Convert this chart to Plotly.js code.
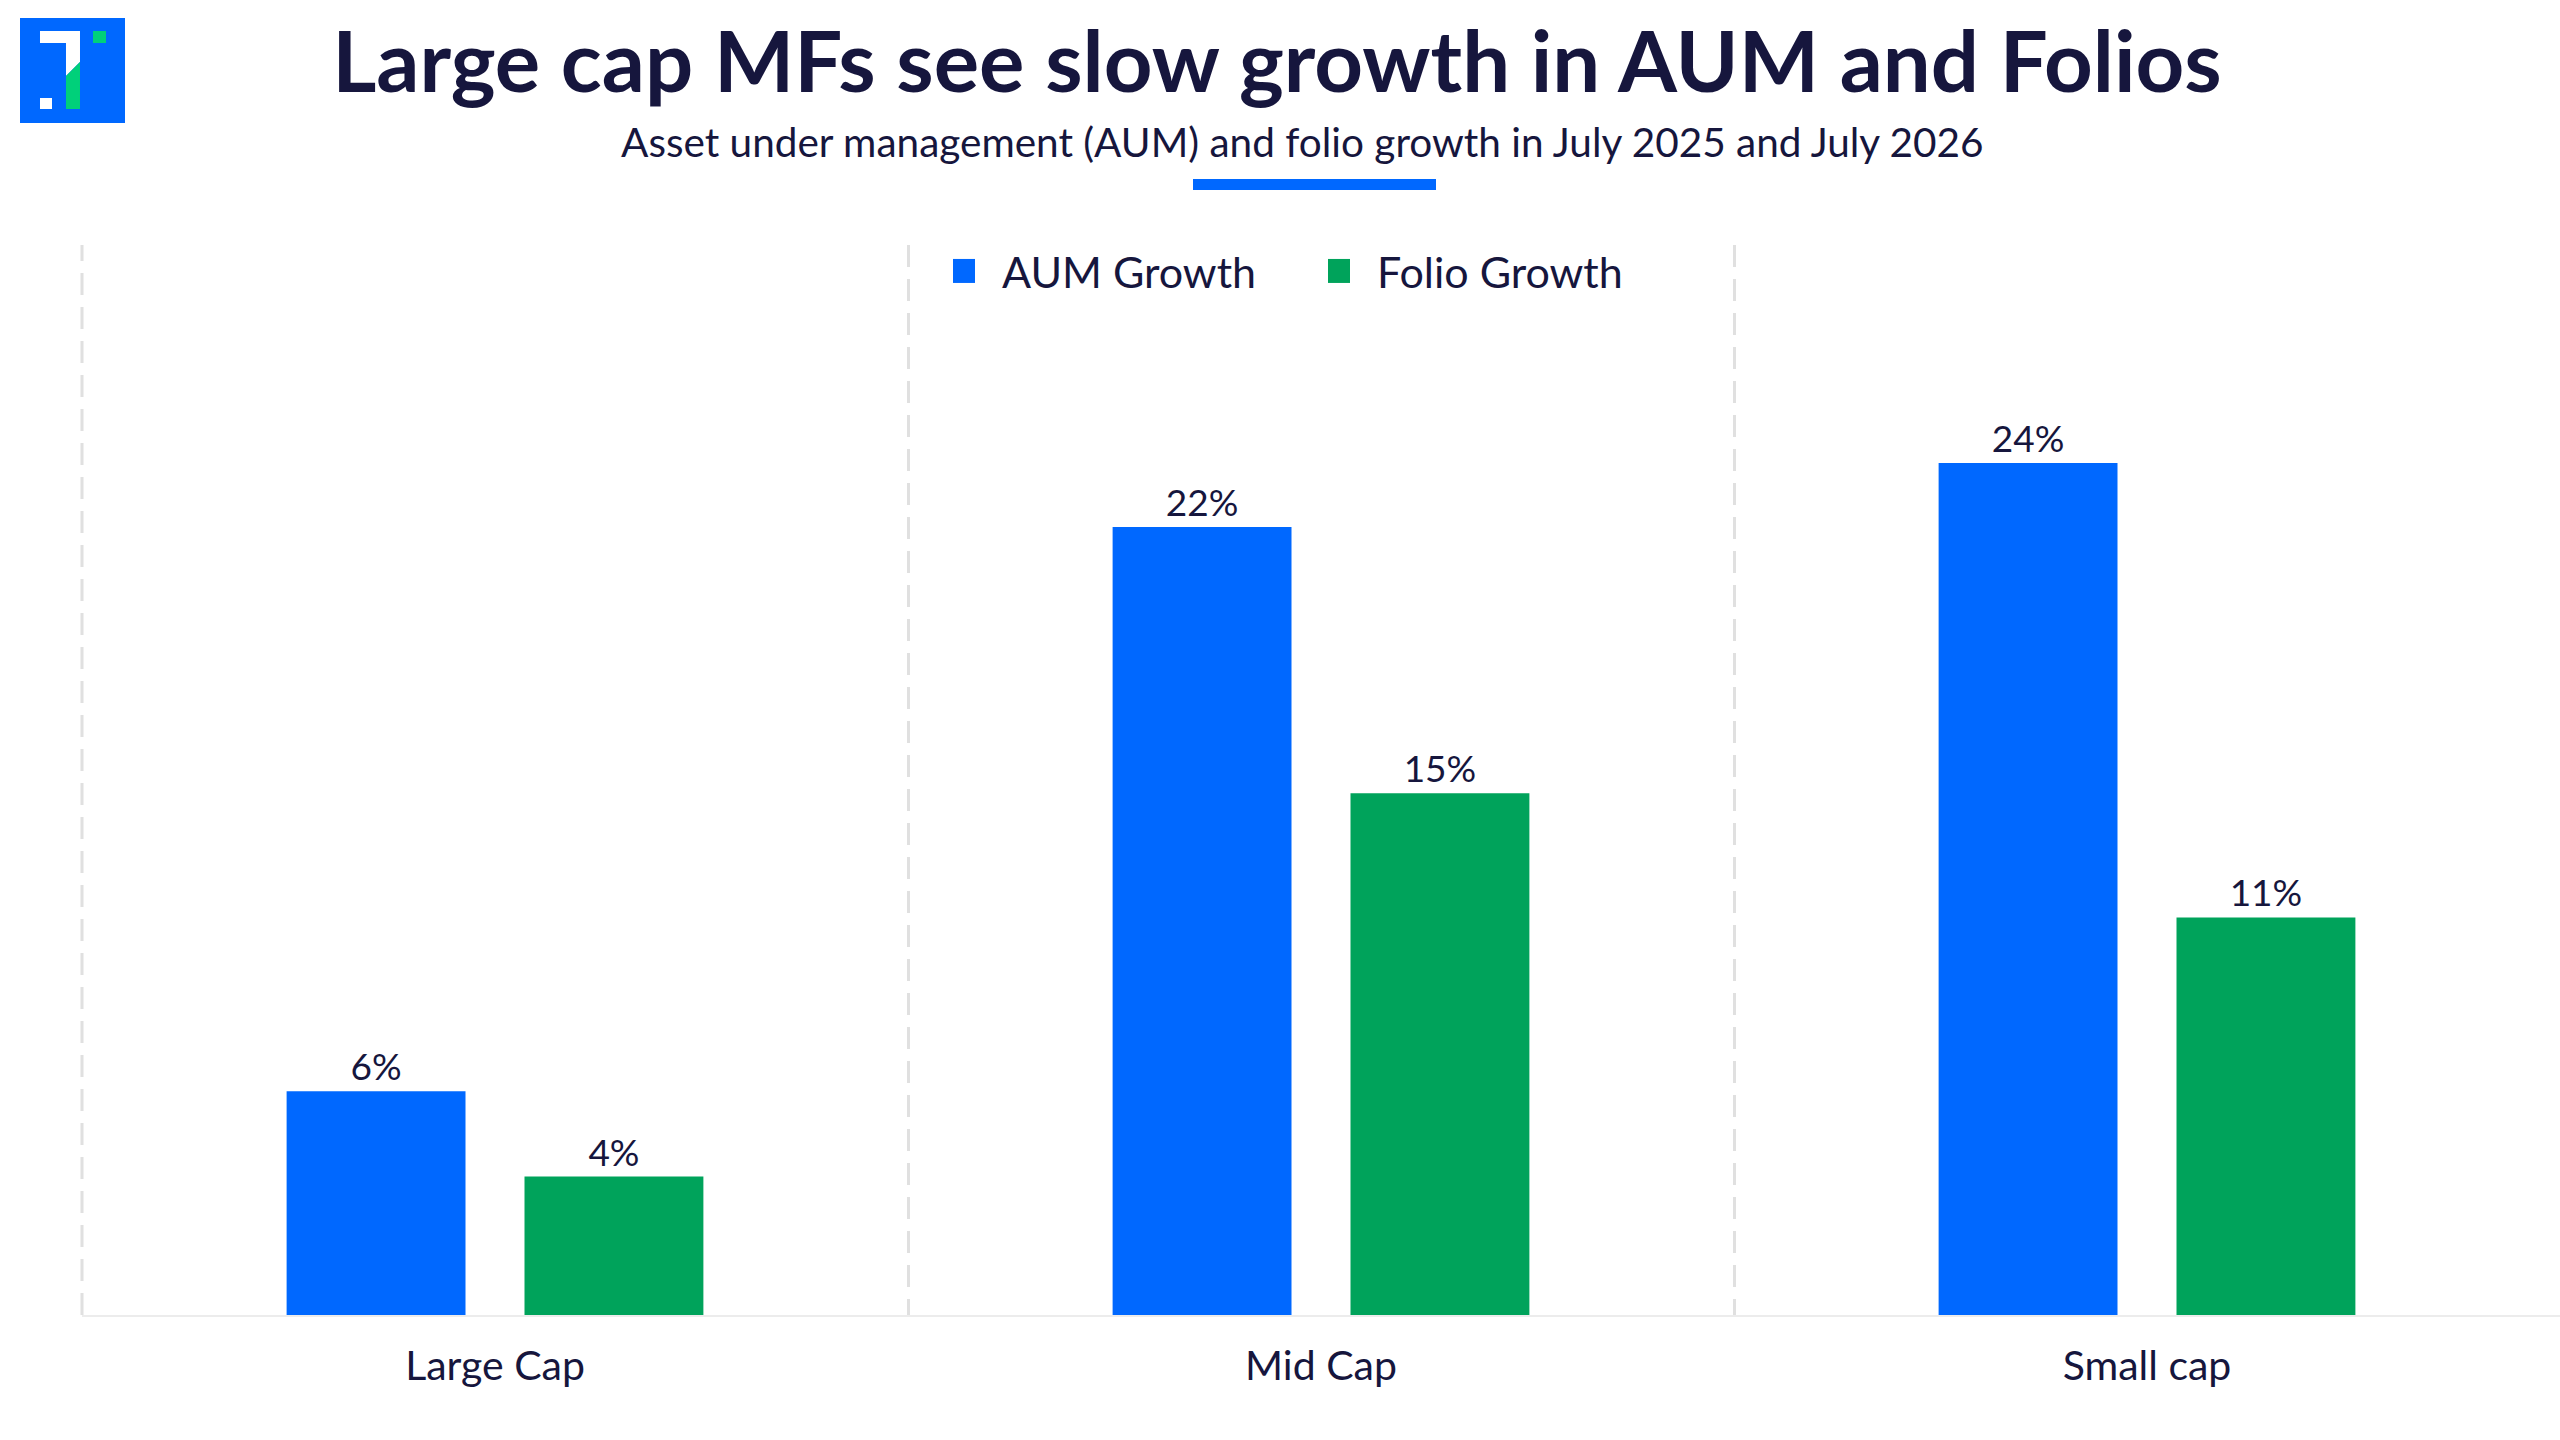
<!DOCTYPE html>
<html>
<head>
<meta charset="utf-8">
<script src="https://cdn.plot.ly/plotly-3.0.1.min.js"></script>
<style>html,body{margin:0;padding:0;background:#fff;}#chart{width:2560px;height:1440px;}</style>
</head>
<body>
<div id="chart"></div>
<script>
// ---- data ----
const categories = ["Large Cap", "Mid Cap", "Small cap"];
const aumGrowth = [6.3, 22.2, 24.0];
const folioGrowth = [3.9, 14.7, 11.2];
const seriesNames = ["AUM Growth", "Folio Growth"];

const NAVY = "#16163d";
const BLUE = "#0068ff";
const GREEN = "#00a35b";
const GRID = "#e0e0e0";
const FONT = "Lato, 'Open Sans', sans-serif";

// plot area in pixels
const L = 82, R = 2560, T = 245, B = 1315;
const px = x => (x - L) / (R - L);
const py = y => (B - y) / (B - T);
function path(pts) {
  return "M" + pts.map(p => px(p[0]).toFixed(5) + "," + py(p[1]).toFixed(5)).join(" L") + " Z";
}
function rect(x0, y0, x1, y1, color) {
  return {type: "rect", xref: "paper", yref: "paper", x0: px(x0), x1: px(x1), y0: py(y1), y1: py(y0),
          fillcolor: color, line: {width: 0}, layer: "above"};
}
function poly(pts, color) {
  return {type: "path", xref: "paper", yref: "paper", path: path(pts), fillcolor: color, line: {width: 0}, layer: "above"};
}

const traces = [
  {type: "bar", name: seriesNames[0], x: categories, y: aumGrowth, marker: {color: BLUE},
   texttemplate: "%{y:.0f}%", textposition: "outside", cliponaxis: false,
   textfont: {family: FONT, size: 37, color: NAVY}, hoverinfo: "skip"},
  {type: "bar", name: seriesNames[1], x: categories, y: folioGrowth, marker: {color: GREEN},
   texttemplate: "%{y:.0f}%", textposition: "outside", cliponaxis: false,
   textfont: {family: FONT, size: 37, color: NAVY}, hoverinfo: "skip"}
];

const shapes = [
  // left boundary dashed gridline of the first category
  {type: "line", xref: "paper", yref: "paper", x0: 0, x1: 0, y0: 0, y1: 1, layer: "below",
   line: {color: GRID, width: 3, dash: "22px,12px"}},
  // underline accent
  rect(1193, 179, 1436, 190, BLUE),
  // logo
  rect(20, 18, 125, 123, BLUE),
  poly([[40,31],[80,31],[80,62],[66,76],[66,43],[40,43]], "#ffffff"),
  poly([[66,76],[80,62],[80,109],[66,109]], "#00d07a"),
  rect(93, 31, 106, 43, "#00d07a"),
  rect(40, 98, 52, 109, "#ffffff")
];

const layout = {
  width: 2560, height: 1440,
  paper_bgcolor: "#ffffff", plot_bgcolor: "#ffffff",
  margin: {l: L, r: 2560 - R, t: T, b: 1440 - B, pad: 0},
  font: {family: FONT, color: NAVY},
  title: {text: "<b>Large cap MFs see slow growth in AUM and Folios</b>",
          font: {family: FONT, size: 85, color: NAVY},
          x: 0.4988, xref: "container", xanchor: "center",
          y: 1 - 62 / 1440, yref: "container", yanchor: "middle"},
  annotations: [
    {text: "Asset under management (AUM) and folio growth in July 2025 and July 2026",
     xref: "paper", yref: "paper", x: px(1302), y: py(142), xanchor: "center", yanchor: "middle",
     showarrow: false, font: {family: FONT, size: 40.5, color: NAVY}}
  ],
  barmode: "group", bargap: 0.424, bargroupgap: 0.248,
  showlegend: true,
  legend: {orientation: "h", x: px(962), y: py(271), xanchor: "left", yanchor: "middle",
           font: {family: FONT, size: 43, color: NAVY}, bgcolor: "rgba(0,0,0,0)",
           entrywidth: 330, entrywidthmode: "pixels", itemclick: false, itemdoubleclick: false},
  xaxis: {type: "category", tickson: "boundaries", showgrid: true, gridcolor: GRID, gridwidth: 3,
          griddash: "22px,12px", ticks: "", showline: true, linecolor: "#ececec", linewidth: 2,
          ticklabelstandoff: 14,
          tickfont: {family: FONT, size: 41, color: NAVY}, fixedrange: true},
  yaxis: {range: [0, 30.14], showgrid: false, zeroline: false, showticklabels: false, showline: false,
          ticks: "", fixedrange: true},
  shapes: shapes
};

Plotly.newPlot("chart", traces, layout, {displayModeBar: false, staticPlot: true}).then(() => {
  document.querySelectorAll(".legend [clip-path]").forEach(e => e.removeAttribute("clip-path"));
  document.querySelectorAll(".legend .legendpoints path").forEach(p => {
    p.setAttribute("d", "M13,12H-9V-12H13Z");
    p.removeAttribute("transform");
  });
});
</script>
</body>
</html>
